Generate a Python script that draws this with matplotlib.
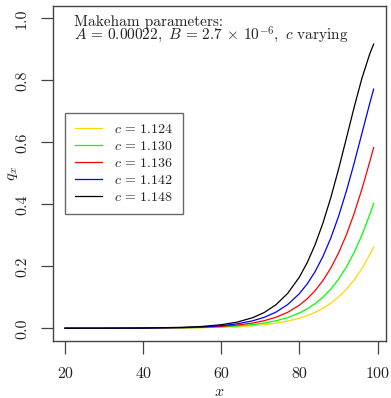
import matplotlib
matplotlib.use("Agg")
import matplotlib.pyplot as plt

plt.rcParams['font.family'] = ['cmr10', 'DejaVu Serif']
plt.rcParams['mathtext.fontset'] = 'cm'
plt.rcParams['axes.formatter.use_mathtext'] = True

ages = [20, 30, 40, 50, 55, 60, 64, 68, 71, 74, 77, 80, 82, 84, 86, 88, 90, 92, 94, 96, 98, 99]

q_c1124 = [0.00025, 0.00032, 0.00053, 0.00121, 0.00199, 0.0034, 0.0053, 0.0083, 0.01167, 0.01644,
           0.02318, 0.03265, 0.04103, 0.0515, 0.06456, 0.0808, 0.1009, 0.1257, 0.1561, 0.1929,
           0.2371, 0.2623]
q_c1130 = [0.00025, 0.00033, 0.0006, 0.00151, 0.0026, 0.0046, 0.0074, 0.0118, 0.01694, 0.02424,
           0.0347, 0.04959, 0.06282, 0.07945, 0.10025, 0.12613, 0.1581, 0.1972, 0.2446, 0.3010,
           0.3669, 0.4034]
q_c1136 = [0.00026, 0.00035, 0.00069, 0.0019, 0.0034, 0.0063, 0.0103, 0.01688, 0.02453, 0.03566,
           0.05173, 0.07483, 0.09544, 0.1214, 0.1537, 0.1937, 0.2426, 0.3012, 0.3703, 0.4494,
           0.5371, 0.5831]
q_c1142 = [0.00026, 0.00037, 0.0008, 0.0024, 0.0045, 0.0085, 0.01429, 0.02402, 0.03546, 0.05225,
           0.0767, 0.1120, 0.1434, 0.1828, 0.2314, 0.2905, 0.3607, 0.4420, 0.5327, 0.6292,
           0.7258, 0.7718]
q_c1148 = [0.00027, 0.0004, 0.00094, 0.0031, 0.0059, 0.01158, 0.01988, 0.03411, 0.05106, 0.07613,
           0.1128, 0.1655, 0.2121, 0.2696, 0.3390, 0.4204, 0.5127, 0.6122, 0.7130, 0.8070,
           0.8856, 0.9170]

series = [q_c1124, q_c1130, q_c1136, q_c1142, q_c1148]
labels = [r"$c \,=\, 1.124$", r"$c \,=\, 1.130$", r"$c \,=\, 1.136$",
          r"$c \,=\, 1.142$", r"$c \,=\, 1.148$"]
colors = ["#FFD700", "#00FF00", "#FF0000", "#0000FF", "#000000"]

xticks = [20, 40, 60, 80, 100]
yticks = [0.0, 0.2, 0.4, 0.6, 0.8, 1.0]
yticklabels = ["0.0", "0.2", "0.4", "0.6", "0.8", "1.0"]

W, H = 391, 398
fig = plt.figure(figsize=(W / 100, H / 100), dpi=100)
ax = fig.add_axes([52.7 / W, 1 - 340.7 / H, (386 - 52.7) / W, (340.7 - 6) / H])

for ys, lab, col in zip(series, labels, colors):
    ax.plot(ages, ys, color=col, lw=0.9, label=lab)

ax.set_xlim(16.84, 102.16)
ax.set_ylim(-0.04, 1.04)
ax.set_xticks(xticks)
ax.set_xticklabels([str(t) for t in xticks])
ax.set_yticks(yticks)
ax.set_yticklabels(yticklabels, rotation=90, va='center')

framecol = '#444444'
for s in ax.spines.values():
    s.set_color(framecol)
    s.set_linewidth(1.0)
ax.tick_params(axis='both', direction='out', length=9, width=0.9, color=framecol,
               labelsize=11.5, labelcolor='#222222')
ax.tick_params(axis='x', pad=10)
ax.tick_params(axis='y', pad=8)

fig.text(219 / W, 1 - 392 / H, r"$x$", fontsize=11.5, ha='center', va='center',
         color='#222222')
fig.text(13 / W, 1 - 174 / H, r"$q_x$", fontsize=11.5, ha='center', va='center',
         rotation=90, color='#222222')

fig.text(74 / W, 1 - 26.3 / H, "Makeham parameters:", fontsize=11, va='baseline', ha='left',
         color='#222222')
fig.text(74 / W, 1 - 39.7 / H,
         r"$A \,=\, 0.00022,\ B \,=\, 2.7 \,\times\, 10^{-6},\ c$ varying",
         fontsize=11, va='baseline', ha='left', color='#222222')

leg = ax.legend(loc='upper left', bbox_to_anchor=(64.7 / W, 1 - 112.7 / H),
                bbox_transform=fig.transFigure, fontsize=10, frameon=True, fancybox=False,
                handlelength=1.9, handletextpad=0.9, labelspacing=0.28, borderpad=0.75,
                borderaxespad=0.0)
leg.get_frame().set_edgecolor(framecol)
leg.get_frame().set_linewidth(1.0)
for t in leg.get_texts():
    t.set_color('#222222')

fig.savefig("out.png", dpi=100)
